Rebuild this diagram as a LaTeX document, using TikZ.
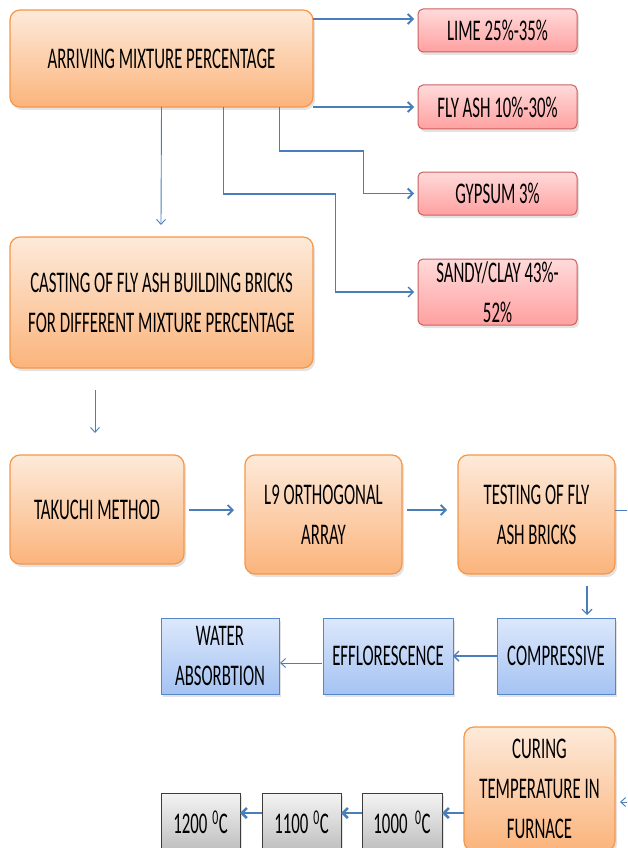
\documentclass[tikz,border=0pt]{standalone}
\usepackage{fontspec}
\setmainfont{Carlito}[FakeStretch=0.56]
\usetikzlibrary{arrows.meta,shadows}
\definecolor{orTop}{RGB}{253,234,218}
\definecolor{orBot}{RGB}{251,180,124}
\definecolor{orBd}{RGB}{247,150,70}
\definecolor{rdTop}{RGB}{255,218,218}
\definecolor{rdBot}{RGB}{255,160,160}
\definecolor{rdBd}{RGB}{205,95,95}
\definecolor{blTop}{RGB}{220,232,251}
\definecolor{blBot}{RGB}{165,195,243}
\definecolor{blBd}{RGB}{85,135,200}
\definecolor{gyTop}{RGB}{244,244,244}
\definecolor{gyBot}{RGB}{190,190,190}
\definecolor{gyBd}{RGB}{60,60,60}
\definecolor{arrC}{RGB}{74,126,187}
\begin{document}
\begin{tikzpicture}[x=1pt,y=-1pt,
  base/.style={anchor=north west, inner sep=1pt, outer sep=0pt, align=center,
    font=\fontsize{30}{40}\selectfont, text=black,
    drop shadow={shadow xshift=2pt,shadow yshift=-3pt,opacity=0.22}},
  obox/.style={base, rounded corners=10pt, draw=orBd, line width=1.2pt, top color=orTop, bottom color=orBot},
  rbox/.style={base, rounded corners=5pt, draw=rdBd, line width=1pt, top color=rdTop, bottom color=rdBot},
  bbox/.style={base, draw=blBd, line width=1pt, top color=blTop, bottom color=blBot},
  gbox/.style={base, draw=gyBd, line width=1pt, top color=gyTop, bottom color=gyBot},
  conn/.style={draw=arrC, line width=1.8pt, -{Straight Barb[length=5pt,width=10pt]}},
  thinconn/.style={draw=arrC, line width=0.9pt, -{Straight Barb[length=5pt,width=9pt]}},
  fatconn/.style={draw=arrC, line width=2.6pt, -{Straight Barb[length=5pt,width=10pt]}},
]
\useasboundingbox (0,0) rectangle (627,848);
\clip (0,0) rectangle (627,848);

% boxes
\node[obox, minimum width=303pt, minimum height=97pt] (arr) at (10,10) {ARRIVING MIXTURE PERCENTAGE};
\node[rbox, minimum width=159pt, minimum height=43pt] (lime) at (418,9) {LIME 25\%-35\%};
\node[rbox, minimum width=159pt, minimum height=44pt] (fly) at (418,85) {FLY ASH 10\%-30\%};
\node[rbox, minimum width=159pt, minimum height=43pt] (gyp) at (418,172) {GYPSUM 3\%};
\node[rbox, minimum width=159pt, minimum height=66pt] (sandy) at (418,259) {SANDY/CLAY 43\%-\\52\%};
\node[obox, minimum width=303pt, minimum height=131pt] (cast) at (10,237) {CASTING OF FLY ASH BUILDING BRICKS\\FOR DIFFERENT MIXTURE PERCENTAGE};
\node[obox, minimum width=174pt, minimum height=109pt] (tak) at (10,455) {TAKUCHI METHOD};
\node[obox, minimum width=157pt, minimum height=119pt] (l9) at (245,455) {L9 ORTHOGONAL\\ARRAY};
\node[obox, minimum width=157pt, minimum height=119pt] (test) at (458,455) {TESTING OF FLY\\ASH BRICKS};
\node[bbox, minimum width=118pt, minimum height=76pt] (comp) at (497,618) {COMPRESSIVE};
\node[bbox, minimum width=130pt, minimum height=76pt] (eff) at (323,618) {EFFLORESCENCE};
\node[bbox, minimum width=118pt, minimum height=76pt] (water) at (161,618) {WATER\\ABSORBTION};
\node[obox, minimum width=151pt, minimum height=124pt] (cur) at (464,727) {CURING\\TEMPERATURE IN\\FURNACE};
\node[gbox, minimum width=80pt, minimum height=58pt] (t1000) at (362,793) {1000\ \ \textsuperscript{0}C};
\node[gbox, minimum width=79pt, minimum height=58pt] (t1100) at (262,793) {1100\,\textsuperscript{0}C};
\node[gbox, minimum width=79pt, minimum height=58pt] (t1200) at (161,793) {1200\,\textsuperscript{0}C};

% free ends of connectors
\coordinate (limeS) at (313,19);   \coordinate (limeE) at (414,19);
\coordinate (castE) at (161,225);
\coordinate (ctS) at (95,390);     \coordinate (ctE) at (95,433);
\coordinate (tlS) at (189,510);    \coordinate (tlE) at (234,510);
\coordinate (ltS) at (407,510);    \coordinate (ltE) at (447,510);
\coordinate (trS) at (615,510);    \coordinate (trE) at (620,802);
\coordinate (tcS) at (587,586);    \coordinate (tcE) at (587,615);
\coordinate (ewS) at (322,663);    \coordinate (ewE) at (280,663);
\coordinate (c1S) at (464,813);    \coordinate (c1E) at (442,813);
\coordinate (c2S) at (362,813);    \coordinate (c2E) at (341,813);
\coordinate (c3S) at (262,813);    \coordinate (c3E) at (240,813);

% connectors
\draw[conn] (limeS) -- (limeE);
\draw[conn] (arr.south east) -- ([xshift=-4pt]fly.west);
\draw[conn] ([xshift=118pt]arr.south) -- ++(0,44) -- ++(84,0) |- ([xshift=-4pt]gyp.west);
\draw[conn, line width=1.4pt] ([xshift=62pt]arr.south) -- ++(0,87) -- ++(112,0) |- ([xshift=-4pt]sandy.west);
\draw[thinconn] (arr.south) -- (castE);
\draw[thinconn] (ctS) -- (ctE);
\draw[conn] (tlS) -- (tlE);
\draw[conn] (ltS) -- (ltE);
\draw[thinconn] (trS) -- (640,510) -- (640,802) -- (trE);
\draw[conn, line width=1.2pt] (tcS) -- (tcE);
\draw[conn, line width=1.4pt] (comp.west) -- (eff.east);
\draw[thinconn] (ewS) -- (ewE);
\draw[fatconn] (c1S) -- (c1E);
\draw[fatconn] (c2S) -- (c2E);
\draw[fatconn] (c3S) -- (c3E);
\end{tikzpicture}
\end{document}
